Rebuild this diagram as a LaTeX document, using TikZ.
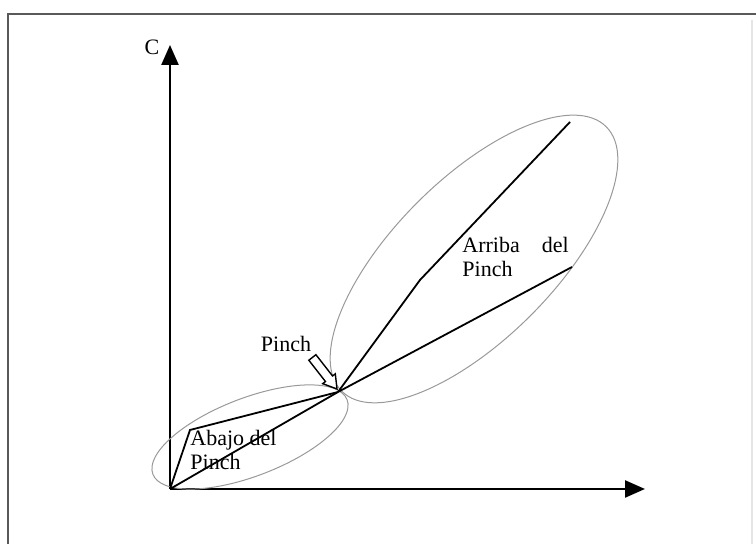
\documentclass[tikz,border=0pt]{standalone}
\usepackage{fontspec}
\setmainfont{Liberation Serif}
\usetikzlibrary{arrows.meta,positioning}

\begin{document}
\begin{tikzpicture}[x=0.5pt,y=0.5pt,
  font=\fontsize{11}{12}\selectfont,
  axis/.style={line width=1.2pt,-{Triangle[length=10pt,width=8.5pt]}},
  comp/.style={line width=0.9pt},
  region/.style={draw=gray!80,line width=0.5pt},
  lab/.style={align=left,inner sep=0pt},
]
  \useasboundingbox (0,0) rectangle (756,544);
  % frame
  \draw[gray!70!black,line width=1.2pt] (8,0) -- (8,530) -- (756,530);
  \draw[gray!20,line width=0.6pt] (752,0) -- (752,524);

  \coordinate (O) at (170,55);
  \coordinate (ytip) at (170,499);
  \coordinate (xtip) at (645,55);
  \coordinate (P) at (338,152);
  \coordinate (lbend) at (190,114);
  \coordinate (hbend) at (420,264);
  \coordinate (htop) at (570,422);
  \coordinate (cend) at (572,277);

  % axes
  \draw[axis] (O) -- (ytip);
  \draw[axis] (O) -- (xtip);
  \node (c) at (152,497) {C};

  % regions
  \draw[region,rotate around={21:(250,107)}] (250,107) ellipse (104 and 39);
  \draw[region,rotate around={45:(474,285)}] (474,285) ellipse (187 and 80);

  % composite curves
  \draw[comp] (O) -- (lbend) -- (P);
  \draw[comp] (O) -- (P);
  \draw[comp] (P) -- (hbend) -- (htop);
  \draw[comp] (P) -- (cend);

  \node[lab,anchor=north west] (below) at (190,114) {Abajo del\\Pinch};
  \node[lab,anchor=north west] (above) at (462,307) {Arriba\hspace{11pt}del\\Pinch};
  \node (pinch) at (286,200) {Pinch};

  % pinch marker
  \begin{scope}[shift={(337,155)},rotate=-52]
    \draw[fill=white,line width=0.7pt] (0,0) -- (-13,8) -- (-13,4.5) -- (-40,4.5)
      -- (-40,-4.5) -- (-13,-4.5) -- (-13,-8) -- cycle;
  \end{scope}
\end{tikzpicture}
\end{document}
